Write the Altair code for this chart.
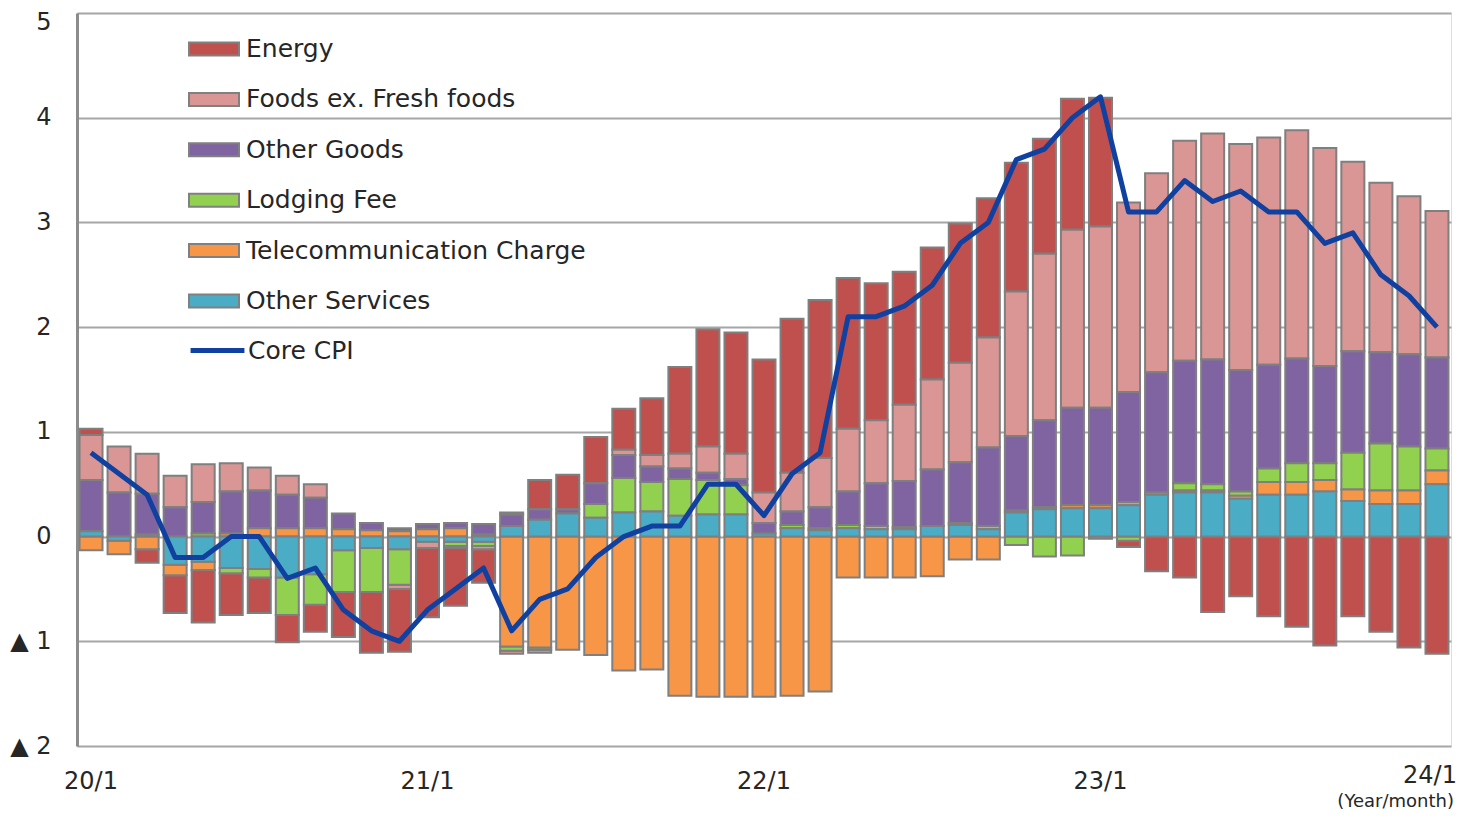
import altair as alt
import pandas as pd

months = [f"{y}/{m}" for y in range(20, 24) for m in range(1, 13)] + ["24/1"]
year_ticks = ["20/1", "21/1", "22/1", "23/1", "24/1"]

components = ["Energy", "Foods ex. Fresh foods", "Other Goods", "Lodging Fee",
              "Telecommunication Charge", "Other Services"]
colors = ["#C0504D", "#D99694", "#8064A2", "#92D050", "#F79646", "#4BACC6"]

energy = [0.06, 0, -0.13, -0.36, -0.50, -0.40, -0.34, -0.26, -0.26, -0.43, -0.58, -0.60,
          -0.66, -0.55, -0.32, 0.02, 0.28, 0.33, 0.44, 0.39, 0.54, 0.83, 1.12, 1.16,
          1.27, 1.47, 1.51, 1.44, 1.31, 1.27, 1.26, 1.33, 1.33, 1.23, 1.10, 1.25,
          1.23, -0.06, -0.33, -0.39, -0.72, -0.57, -0.76, -0.86, -1.04, -0.76, -0.91, -1.06,
          -1.12]
foods = [0.43, 0.44, 0.38, 0.30, 0.36, 0.27, 0.22, 0.18, 0.13, 0, 0, -0.04,
         -0.06, -0.02, -0.03, -0.03, -0.03, 0, 0, 0.05, 0.11, 0.14, 0.25, 0.24,
         0.29, 0.37, 0.47, 0.60, 0.60, 0.73, 0.86, 0.95, 1.05, 1.38, 1.59, 1.70,
         1.73, 1.81, 1.90, 2.10, 2.16, 2.16, 2.17, 2.18, 2.08, 1.81, 1.62, 1.51,
         1.40]
goods = [0.49, 0.42, 0.39, 0.28, 0.30, 0.40, 0.36, 0.32, 0.29, 0.15, 0.07, 0.03,
         0.05, 0.05, 0.10, 0.11, 0.10, 0.04, 0.20, 0.22, 0.15, 0.10, 0.07, 0.06,
         0.10, 0.13, 0.20, 0.32, 0.41, 0.44, 0.54, 0.58, 0.75, 0.71, 0.83, 0.93,
         0.93, 1.05, 1.15, 1.17, 1.19, 1.16, 0.99, 1.00, 0.93, 0.97, 0.87, 0.88,
         0.87]
lodging = [0, 0, 0, 0, 0.03, -0.05, -0.08, -0.36, -0.29, -0.40, -0.42, -0.34,
           0, -0.04, -0.04, -0.04, -0.02, 0, 0.13, 0.33, 0.28, 0.35, 0.33, 0.28,
           0, 0.03, 0.02, 0.03, 0.03, 0.02, 0, 0.02, 0.03, -0.08, -0.19, -0.18,
           -0.02, -0.04, 0, 0.07, 0.06, 0.04, 0.13, 0.18, 0.16, 0.35, 0.45, 0.42,
           0.21]
telecom = [-0.13, -0.13, -0.12, -0.10, -0.08, 0.03, 0.08, 0.08, 0.08, 0.07, 0.06, 0.05,
           0.07, 0.08, 0.02, -1.05, -1.06, -1.08, -1.13, -1.28, -1.27, -1.52, -1.53, -1.53,
           -1.53, -1.52, -1.48, -0.39, -0.39, -0.39, -0.38, -0.22, -0.22, 0.02, 0.02, 0.03,
           0.03, 0.03, 0.02, 0.02, 0.02, 0.03, 0.12, 0.12, 0.11, 0.11, 0.13, 0.13,
           0.13]
services = [0.05, -0.04, 0.02, -0.27, -0.24, -0.30, -0.31, -0.39, -0.36, -0.13, -0.11, -0.12,
            -0.05, -0.05, -0.05, 0.10, 0.16, 0.22, 0.18, 0.23, 0.24, 0.20, 0.21, 0.21,
            0.03, 0.08, 0.06, 0.08, 0.07, 0.07, 0.10, 0.11, 0.07, 0.23, 0.26, 0.27,
            0.27, 0.30, 0.40, 0.42, 0.42, 0.36, 0.40, 0.40, 0.43, 0.34, 0.31, 0.31,
            0.50]
core_cpi = [0.8, 0.6, 0.4, -0.2, -0.2, 0.0, 0.0, -0.4, -0.3, -0.7, -0.9, -1.0,
            -0.7, -0.5, -0.3, -0.9, -0.6, -0.5, -0.2, 0.0, 0.1, 0.1, 0.5, 0.5,
            0.2, 0.6, 0.8, 2.1, 2.1, 2.2, 2.4, 2.8, 3.0, 3.6, 3.7, 4.0,
            4.2, 3.1, 3.1, 3.4, 3.2, 3.3, 3.1, 3.1, 2.8, 2.9, 2.5, 2.3,
            2.0]

series = [energy, foods, goods, lodging, telecom, services]
# stacking order from zero outward
stack_order = {"Other Services": 0, "Telecommunication Charge": 1, "Lodging Fee": 2,
               "Other Goods": 3, "Foods ex. Fresh foods": 4, "Energy": 5}

rows = []
for i, m in enumerate(months):
    for name, arr in zip(components, series):
        if arr[i] != 0:
            rows.append({"month": m, "component": name, "value": arr[i],
                         "ord": stack_order[name]})
bars_df = pd.DataFrame(rows)
line_df = pd.DataFrame({"month": months, "core": core_cpi, "series": "Core CPI"})

FONT = "DejaVu Sans"
TXT = "#262626"

x_enc = alt.X("month:N", sort=months,
              scale=alt.Scale(paddingInner=0.18, paddingOuter=0.09),
              axis=alt.Axis(values=year_ticks, labelAngle=0, ticks=False, domain=False,
                            title=None, labelFontSize=24, grid=False,
                            labelColor=TXT, labelFont=FONT,
                            labelPadding={"condition": {"test": "datum.value === '24/1'",
                                                        "value": 17}, "value": 23},
                            labelOffset={"condition": {"test": "datum.value === '24/1'",
                                                       "value": -7}, "value": 0}))
y_scale = alt.Scale(domain=[-2, 5], nice=False)
y_axis = alt.Axis(values=list(range(-2, 6)), grid=True, gridColor="#A6A6A6", gridWidth=2,
                  ticks=False, title=None, labelFontSize=24, labelPadding=26,
                  labelColor=TXT, labelFont=FONT, domainColor="#8C8C8C", domainWidth=3,
                  labelOffset={"condition": {"test": "datum.value === 5", "value": 9},
                               "value": 0},
                  labelExpr="datum.value < 0 ? '\u25b2 ' + abs(datum.value) : datum.value")

bars = alt.Chart(bars_df).mark_bar(stroke="#7F7F7F", strokeWidth=2).encode(
    x=x_enc,
    y=alt.Y("value:Q", stack="zero", scale=y_scale, axis=y_axis),
    color=alt.Color("component:N",
                    scale=alt.Scale(domain=components, range=colors),
                    legend=alt.Legend(orient="none", legendX=111, legendY=10,
                                      direction="vertical", title=None, padding=0,
                                      symbolType="M-1,-0.26H1V0.26H-1Z", symbolSize=2500,
                                      symbolStrokeColor="#808080", symbolStrokeWidth=2,
                                      symbolOpacity=1,
                                      labelFontSize=25, labelFont=FONT, labelColor=TXT,
                                      labelLimit=1000, labelOffset=6, rowPadding=11.4)),
    order=alt.Order("ord:Q", sort="ascending"),
)

line = alt.Chart(line_df).mark_line(strokeWidth=5, strokeJoin="round").encode(
    x=alt.X("month:N", sort=months),
    y=alt.Y("core:Q", scale=y_scale),
    stroke=alt.Stroke("series:N", scale=alt.Scale(domain=["Core CPI"], range=["#1040A0"]),
                      legend=alt.Legend(orient="none", legendX=111, legendY=308,
                                        title=None, padding=0, symbolType="stroke",
                                        symbolSize=2900, symbolStrokeWidth=5,
                                        labelFontSize=25, labelFont=FONT, labelColor=TXT,
                                        labelLimit=1000, labelOffset=1)),
)

unit_note = alt.Chart(pd.DataFrame({"t": ["(Year/month)"]})).mark_text(
    align="right", baseline="bottom", fontSize=18, font=FONT, color=TXT
).encode(x=alt.value(1377), y=alt.value(798), text="t:N")

chart = alt.layer(bars, line, unit_note).resolve_scale(y="shared").properties(
    width=1374, height=733,
    autosize=alt.AutoSizeParams(type="none"),
    padding={"left": 69, "top": 5, "right": 5, "bottom": 66},
).configure_view(stroke="#4D4D4D", strokeWidth=3).configure(font=FONT)

chart.save("out.html", embed_options={"renderer": "svg", "actions": False})
